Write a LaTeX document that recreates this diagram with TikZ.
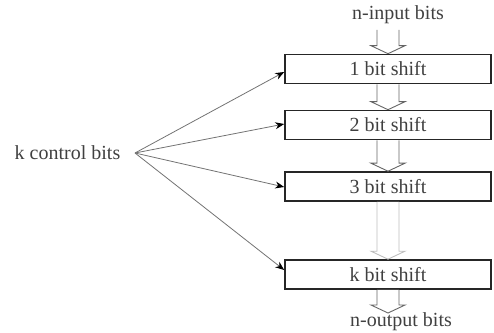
\documentclass[tikz,border=0pt]{standalone}
\usepackage{fontspec}
\setmainfont{Liberation Serif}
\usetikzlibrary{calc,arrows.meta}
\tikzset{
  shiftbox/.style={draw=black!85, line width=1.6pt, minimum width=206pt, minimum height=29pt, inner sep=0pt, font=\fontsize{20}{24}\selectfont, text=black!75},
  lbl/.style={inner sep=0pt, font=\fontsize{20}{24}\selectfont, text=black!75},
  ctrl/.style={draw=black!55, line width=0.8pt, -{Stealth[length=9pt,width=7pt,black]}},
  hollow/.style={draw=black!60, line width=0.9pt, fill=white},
}
\newcommand\harrow[3][hollow]{%
  \draw[#1] let \p1=(#2), \p2=(#3) in
    ({\x1-11pt},\y1) -- ({\x1-11pt},{\y2+8pt}) -- ({\x1-17pt},{\y2+8pt}) -- (\x1,\y2)
    -- ({\x1+17pt},{\y2+8pt}) -- ({\x1+11pt},{\y2+8pt}) -- ({\x1+11pt},\y1);}
\begin{document}
\begin{tikzpicture}[x=1pt,y=1pt]
\useasboundingbox (0,0) rectangle (494,332);
\node[shiftbox] (b1) at (388,263) {1 bit shift};
\node[shiftbox] (b2) at (388,207) {2 bit shift};
\node[shiftbox] (b3) at (388,145.5) {3 bit shift};
\node[shiftbox] (bk) at (388,57.5) {k bit shift};
\node[lbl] (in) at (398,317) {n-input bits};
\node[lbl, anchor=base] (out) at (401,6) {n-output bits};
\node[lbl] (k) at (67.5,179) {k control bits};
\coordinate (kc) at (135,179);
\coordinate (intop) at (388,302);
\coordinate (outtip) at (388,19);
\harrow{intop}{b1.north}
\harrow{b1.south}{b2.north}
\harrow{b2.south}{b3.north}
\harrow[hollow, draw=black!25]{b3.south}{bk.north}
\harrow{bk.south}{outtip}
\draw[ctrl] (kc) -- ([yshift=-3pt]b1.west);
\draw[ctrl] (kc) -- ([yshift=1pt]b2.west);
\draw[ctrl] (kc) -- ([yshift=-0.5pt]b3.west);
\draw[ctrl] (kc) -- ([yshift=4.5pt]bk.west);
\end{tikzpicture}
\end{document}
